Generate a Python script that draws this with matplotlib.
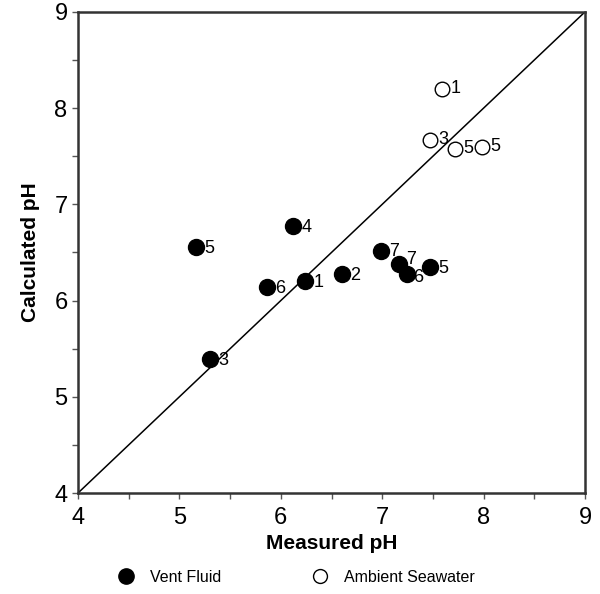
import matplotlib.pyplot as plt
from matplotlib.ticker import MultipleLocator
from matplotlib.lines import Line2D

plt.rcParams["font.family"] = ["Liberation Sans", "DejaVu Sans"]

# Vent fluid samples: measured vs calculated pH, with site labels
vent_measured = [5.16, 6.12, 5.86, 6.24, 6.60, 5.30, 6.99, 7.17, 7.24, 7.47]
vent_calc = [6.56, 6.77, 6.14, 6.20, 6.28, 5.39, 6.52, 6.38, 6.28, 6.35]
vent_labels = ["5", "4", "6", "1", "2", "3", "7", "7", "6", "5"]

# Ambient seawater samples
sea_measured = [7.59, 7.47, 7.72, 7.98]
sea_calc = [8.20, 7.67, 7.58, 7.60]
sea_labels = ["1", "3", "5", "5"]

fig = plt.figure(figsize=(6, 5.94), dpi=100)
ax = fig.add_axes([0.13, 0.17, 0.845, 0.81])

# 1:1 line
ax.plot([4, 9], [4, 9], color="black", lw=1.1, zorder=1)

ax.plot(vent_measured, vent_calc, "o", color="black", ms=11.5, zorder=3)
ax.plot(sea_measured, sea_calc, "o", mfc="white", mec="black", mew=1.0, ms=10.5, zorder=3)

# the crowded pair near 7.2 gets nudged a little, like in the original
nudge = {7: (5, 3), 8: (5, -3)}
for i, (x, y, t) in enumerate(zip(vent_measured, vent_calc, vent_labels)):
    off = nudge.get(i, (6, -1))
    ax.annotate(t, (x, y), xytext=off, textcoords="offset points",
                va="center", ha="left", fontsize=13, zorder=2 if i == 7 else 4)
for x, y, t in zip(sea_measured, sea_calc, sea_labels):
    ax.annotate(t, (x, y), xytext=(6, 0), textcoords="offset points",
                va="center", ha="left", fontsize=13, zorder=4)

ax.set_xlim(4, 9)
ax.set_ylim(4, 9)
ax.xaxis.set_major_locator(MultipleLocator(1))
ax.yaxis.set_major_locator(MultipleLocator(1))
ax.xaxis.set_minor_locator(MultipleLocator(0.5))
ax.yaxis.set_minor_locator(MultipleLocator(0.5))
ax.tick_params(which="both", direction="out", length=4, width=1, color="#555555", labelsize=17)
ax.tick_params(axis="x", pad=6)
for s in ax.spines.values():
    s.set_linewidth(1.8)
    s.set_color("#333333")

ax.set_xlabel("Measured pH", fontsize=15, fontweight="bold", labelpad=4)
ax.set_ylabel("Calculated pH", fontsize=15, fontweight="bold", labelpad=10)

handles = [
    Line2D([], [], marker="o", ls="", color="black", ms=11),
    Line2D([], [], marker="o", ls="", mfc="white", mec="black", ms=10),
]
fig.legend(handles, ["Vent Fluid", "Ambient Seawater"], loc="center",
           bbox_to_anchor=(0.487, 0.028), ncol=2, frameon=False, fontsize=11.5,
           columnspacing=5.2, handletextpad=0.5)

fig.savefig("out.png", dpi=100)
